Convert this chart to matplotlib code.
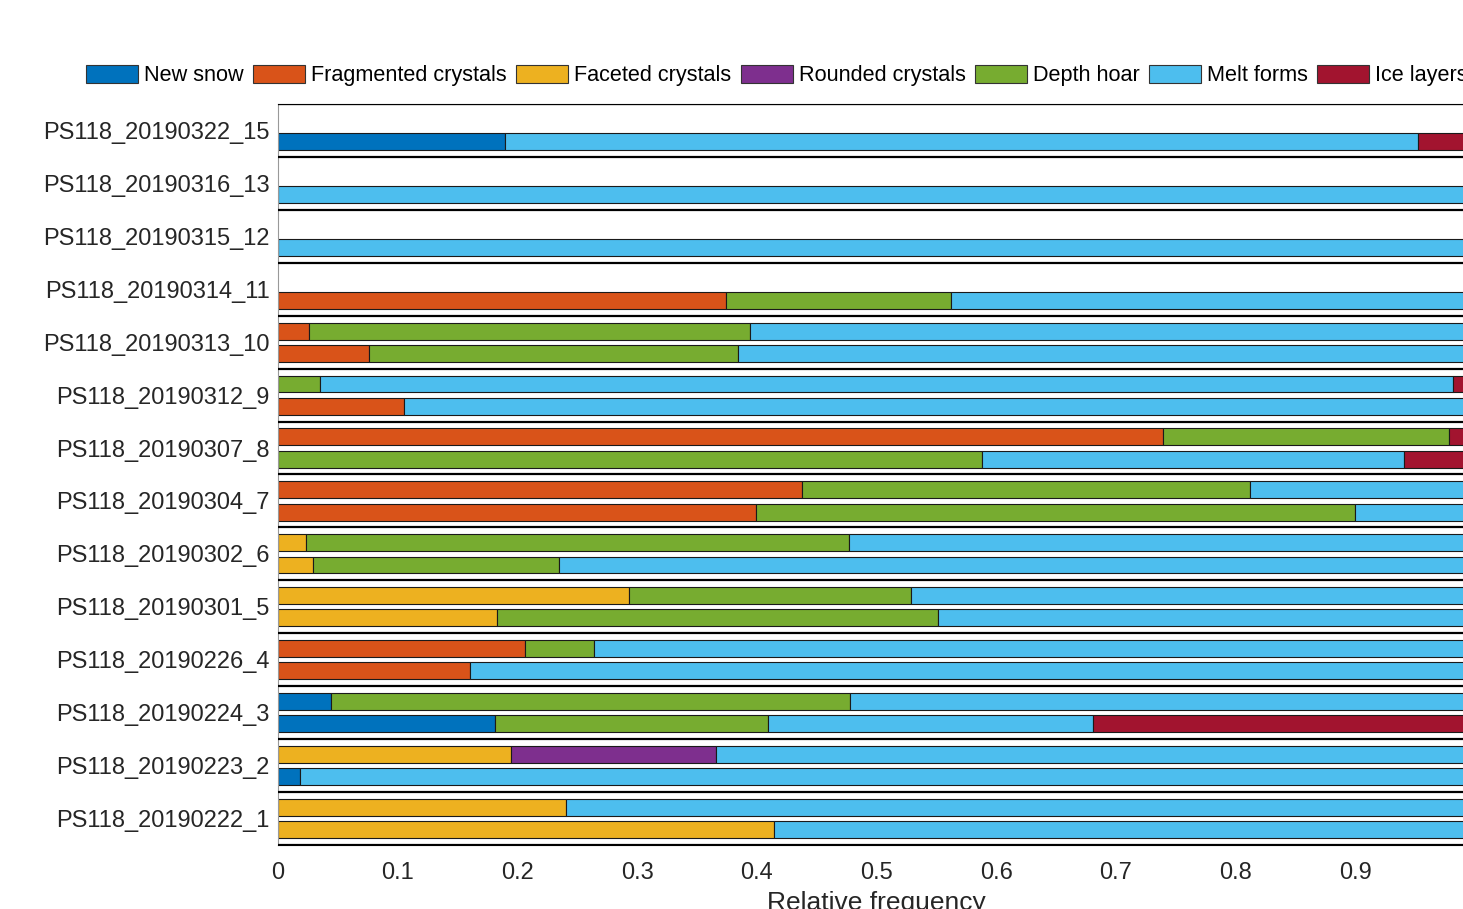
import numpy as np
import matplotlib
matplotlib.use("Agg")
import matplotlib.pyplot as plt
from matplotlib.patches import Patch

plt.rcParams['font.family'] = ['Liberation Sans', 'DejaVu Sans']

# Snow pit stations, listed top to bottom
stations = ['PS118_20190322_15', 'PS118_20190316_13', 'PS118_20190315_12',
            'PS118_20190314_11', 'PS118_20190313_10', 'PS118_20190312_9',
            'PS118_20190307_8', 'PS118_20190304_7', 'PS118_20190302_6',
            'PS118_20190301_5', 'PS118_20190226_4', 'PS118_20190224_3',
            'PS118_20190223_2', 'PS118_20190222_1']

classes = ['New snow', 'Fragmented crystals', 'Faceted crystals',
           'Rounded crystals', 'Depth hoar', 'Melt forms', 'Ice layers']
colors = ['#0072BD', '#D95319', '#EDB120', '#7E2F8E', '#77AC30', '#4DBEEE', '#A2142F']

# upper profile of each station (relative frequency per grain class)
new_snow_a   = [0, 0, 0, 0, 0, 0, 0, 0, 0, 0, 0, 0.044, 0, 0]
fragmented_a = [0, 0, 0, 0, 0.026, 0, 0.739, 0.438, 0, 0, 0.206, 0, 0, 0]
faceted_a    = [0, 0, 0, 0, 0, 0, 0, 0, 0.023, 0.293, 0, 0, 0.195, 0.241]
rounded_a    = [0, 0, 0, 0, 0, 0, 0, 0, 0, 0, 0, 0, 0.171, 0]
depth_hoar_a = [0, 0, 0, 0, 0.368, 0.035, 0.239, 0.374, 0.454, 0.236, 0.058, 0.434, 0, 0]
melt_a       = [0, 0, 0, 0, 0.606, 0.947, 0, 0.188, 0.523, 0.471, 0.736, 0.522, 0.634, 0.759]
ice_a        = [0, 0, 0, 0, 0, 0.018, 0.022, 0, 0, 0, 0, 0, 0, 0]

# lower profile of each station
new_snow_b   = [0.190, 0, 0, 0, 0, 0, 0, 0, 0, 0, 0, 0.181, 0.018, 0]
fragmented_b = [0, 0, 0, 0.374, 0.076, 0.105, 0, 0.399, 0, 0, 0.160, 0, 0, 0]
faceted_b    = [0, 0, 0, 0, 0, 0, 0, 0, 0.029, 0.183, 0, 0, 0, 0.414]
rounded_b    = [0, 0, 0, 0, 0, 0, 0, 0, 0, 0, 0, 0, 0, 0]
depth_hoar_b = [0, 0, 0, 0.188, 0.308, 0, 0.588, 0.501, 0.206, 0.368, 0, 0.228, 0, 0]
melt_b       = [0.762, 1.0, 1.0, 0.438, 0.616, 0.895, 0.353, 0.100, 0.765, 0.449, 0.840, 0.272, 0.982, 0.586]
ice_b        = [0.048, 0, 0, 0, 0, 0, 0.059, 0, 0, 0, 0, 0.319, 0, 0]

profile_a = [new_snow_a, fragmented_a, faceted_a, rounded_a, depth_hoar_a, melt_a, ice_a]
profile_b = [new_snow_b, fragmented_b, faceted_b, rounded_b, depth_hoar_b, melt_b, ice_b]

fig = plt.figure(figsize=(14.63, 9.09), dpi=100)
ax = fig.add_axes([278 / 1463, 64 / 909, 1197 / 1463, 741 / 909])

n = len(stations)
idx = np.arange(n)
bar_h = 0.32

for offset, profile in [(0.29, profile_a), (0.71, profile_b)]:
    left = np.zeros(n)
    for vals, col in zip(profile, colors):
        vals = np.asarray(vals, dtype=float)
        keep = vals > 0
        ax.barh(idx[keep] + offset, vals[keep], height=bar_h, left=left[keep],
                color=col, edgecolor='#1a1a1a', linewidth=0.8, zorder=2)
        left += vals

# boxes around each station
for y in range(n + 1):
    ax.axhline(y, color='black', lw=1.6, zorder=3)

ax.set_ylim(n, 0)
ax.set_xlim(0, 1)
ax.set_yticks(idx + 0.5)
ax.set_yticklabels(stations, fontsize=17)
ax.set_xticks(np.arange(0, 0.95, 0.1))
ax.set_xticklabels(['0'] + [f'{v:.1f}' for v in np.arange(0.1, 0.95, 0.1)], fontsize=17)
ax.tick_params(axis='both', length=0, colors='#262626')
ax.tick_params(axis='y', pad=6)
ax.tick_params(axis='x', pad=12)
ax.set_xlabel('Relative frequency', fontsize=19, color='#262626', labelpad=5)

ax.spines['left'].set_color('#999999')
ax.spines['right'].set_visible(False)
ax.spines['bottom'].set_color('black')
ax.spines['top'].set_color('black')

handles = [Patch(facecolor=c, edgecolor='#333333', linewidth=0.8) for c in colors]
fig.legend(handles, classes, loc='center left', bbox_to_anchor=(86 / 1463, 1 - 75.5 / 909),
           bbox_transform=fig.transFigure, ncol=7, frameon=False, fontsize=15.6,
           handlelength=2.4, handleheight=0.92, handletextpad=0.28,
           columnspacing=0.43, borderpad=0, borderaxespad=0)

fig.savefig('out.png', dpi=100)
